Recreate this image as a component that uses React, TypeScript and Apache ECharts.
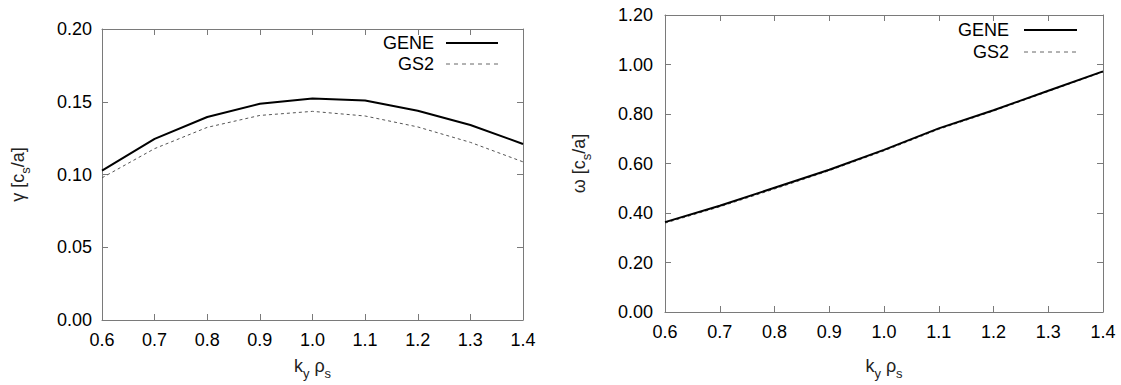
import React, { useEffect, useRef } from "react";
import * as echarts from "echarts";

const kValues = [0.6, 0.7, 0.8, 0.9, 1.0, 1.1, 1.2, 1.3, 1.4];
const gammaGENE = [0.1027, 0.1245, 0.1395, 0.1486, 0.1523, 0.1509, 0.1438, 0.134, 0.121];
const gammaGS2 = [0.0977, 0.1178, 0.1324, 0.1406, 0.1434, 0.1402, 0.1327, 0.1221, 0.1087];
const omegaGENE = [0.363, 0.429, 0.502, 0.575, 0.655, 0.742, 0.815, 0.894, 0.972];
const omegaGS2 = [0.359, 0.425, 0.497, 0.571, 0.651, 0.738, 0.812, 0.891, 0.970];
const seriesNames = ["GENE", "GS2"];

const FONT = "Liberation Sans, Arial, Helvetica, sans-serif";
const AXIS_COLOR = "#7a7a7a";
const TITLE_COLOR = "#222";

const pairs = (xs: number[], ys: number[]) => xs.map((x, i) => [x, ys[i]]);

const richTitle = {
  n: { fontSize: 18, lineHeight: 22, verticalAlign: "top", fontFamily: FONT, color: TITLE_COLOR },
  sub: { fontSize: 13, lineHeight: 13, verticalAlign: "top", padding: [10, 0, 0, 0], fontFamily: FONT, color: TITLE_COLOR },
};

function xAxes(gridIndex: number, gap: number) {
  const base = {
    type: "value",
    gridIndex,
    min: 0.6,
    max: 1.4,
    interval: 0.1,
    splitLine: { show: false },
    axisLine: { show: true, onZero: false, lineStyle: { color: AXIS_COLOR, width: 1 } },
    axisTick: { show: true, inside: true, length: 6, lineStyle: { color: AXIS_COLOR } },
  };
  return [
    {
      ...base,
      position: "bottom",
      axisLabel: {
        color: "#000",
        fontSize: 18,
        fontFamily: FONT,
        margin: 11,
        formatter: (v: number) => v.toFixed(1),
      },
      name: "{n|k}{sub|y}{n| ρ}{sub|s}",
      nameLocation: "middle",
      nameGap: gap,
      nameTextStyle: { rich: richTitle },
    },
    { ...base, position: "top", axisLabel: { show: false } },
  ];
}

function yAxes(gridIndex: number, max: number, interval: number, sym: string, gap: number, margin: number) {
  const base = {
    type: "value",
    gridIndex,
    min: 0,
    max,
    interval,
    splitLine: { show: false },
    axisLine: { show: true, onZero: false, lineStyle: { color: AXIS_COLOR, width: 1 } },
    axisTick: { show: true, inside: true, length: 6, lineStyle: { color: AXIS_COLOR } },
  };
  return [
    {
      ...base,
      position: "left",
      axisLabel: {
        color: "#000",
        fontSize: 18,
        fontFamily: FONT,
        margin,
        formatter: (v: number) => v.toFixed(2),
      },
      name: "{n|" + sym + " [c}{sub|s}{n|/a]}",
      nameLocation: "middle",
      nameGap: gap,
      nameRotate: 90,
      nameTextStyle: { rich: richTitle },
    },
    { ...base, position: "right", axisLabel: { show: false } },
  ];
}

function legendGraphic(textRight: number, lineX0: number, lineX1: number, y0: number, y1: number) {
  const ys = [y0, y1];
  const out: any[] = [];
  seriesNames.forEach((name, i) => {
    out.push({
      type: "text",
      x: textRight,
      y: ys[i],
      style: {
        text: name,
        fontSize: 18,
        fontFamily: FONT,
        fill: "#000",
        align: "right",
        verticalAlign: "middle",
      },
    });
    out.push({
      type: "line",
      shape: { x1: lineX0, y1: ys[i], x2: lineX1, y2: ys[i] },
      style:
        i === 0
          ? { stroke: "#000", lineWidth: 2 }
          : { stroke: "#666", lineWidth: 1, lineDash: [4, 4] },
    });
  });
  return out;
}

export default function App() {
  const ref = useRef<HTMLDivElement>(null);
  useEffect(() => {
    if (!ref.current) return;
    const chart = echarts.init(ref.current, undefined, { renderer: "svg" });
    const solid = { color: "#000", width: 2 };
    const dashed = { color: "#555", width: 1, type: [3, 3] as any };
    chart.setOption({
      animation: false,
      backgroundColor: "#fff",
      grid: [
        { left: 102, top: 29, width: 421, height: 292 },
        { left: 665, top: 15, width: 438, height: 301 },
      ],
      xAxis: [...xAxes(0, 37), ...xAxes(1, 45)],
      yAxis: [...yAxes(0, 0.2, 0.05, "γ", 71, 10), ...yAxes(1, 1.2, 0.2, "ω", 73, 12)],
      graphic: [
        ...legendGraphic(434, 446, 498, 43, 64),
        ...legendGraphic(1009, 1024, 1077, 30, 52),
      ],
      series: [
        {
          name: seriesNames[0], type: "line", xAxisIndex: 0, yAxisIndex: 0, symbol: "none",
          lineStyle: solid, itemStyle: { color: "#000" }, data: pairs(kValues, gammaGENE), z: 3,
        },
        {
          name: seriesNames[1], type: "line", xAxisIndex: 0, yAxisIndex: 0, symbol: "none",
          lineStyle: dashed, itemStyle: { color: "#555" }, data: pairs(kValues, gammaGS2), z: 2,
        },
        {
          name: seriesNames[0], type: "line", xAxisIndex: 2, yAxisIndex: 2, symbol: "none",
          lineStyle: solid, itemStyle: { color: "#000" }, data: pairs(kValues, omegaGENE), z: 3,
        },
        {
          name: seriesNames[1], type: "line", xAxisIndex: 2, yAxisIndex: 2, symbol: "none",
          lineStyle: dashed, itemStyle: { color: "#555" }, data: pairs(kValues, omegaGS2), z: 2,
        },
      ],
    });
    return () => chart.dispose();
  }, []);
  return (
    <div
      ref={ref}
      style={{ position: "fixed", left: 0, top: 0, width: 1121, height: 385, background: "#fff" }}
    />
  );
}
